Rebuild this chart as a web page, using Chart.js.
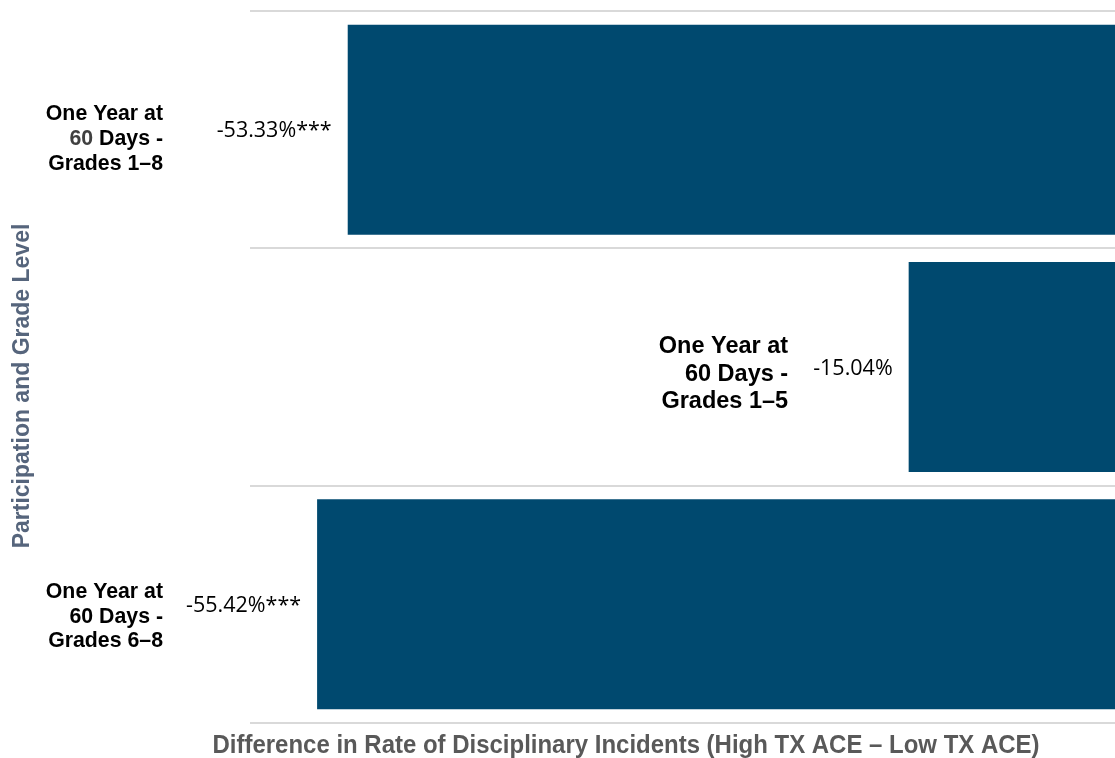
<!DOCTYPE html>
<html>
<head>
<meta charset="utf-8">
<script src="https://cdn.jsdelivr.net/npm/chart.js@4"></script>
<style>
  html, body { margin: 0; padding: 0; background: #ffffff; overflow: hidden; }
  #wrap { width: 1130px; height: 758px; }
</style>
</head>
<body>
<div id="wrap"><canvas id="c" width="1130" height="758"></canvas></div>
<script>
// ---- data ----
const categories = [
  ["One Year at", "60 Days -", "Grades 1–8"],
  ["One Year at", "60 Days -", "Grades 1–5"],
  ["One Year at", "60 Days -", "Grades 6–8"]
];
const values = [-53.33, -15.04, -55.42];
const significance = ["***", "", "***"];
const xAxisTitle = "Difference in Rate of Disciplinary Incidents (High TX ACE – Low TX ACE)";
const yAxisTitle = "Participation and Grade Level";

// ---- layout / style (not data) ----
const labelFontSizes = [21.3, 23.5, 21.3];
const labelDy = [9.5, 7.3, 12.3];
const barColor = "#00496F";

const labelsPlugin = {
  id: "customLabels",
  afterDatasetsDraw(chart) {
    const ctx = chart.ctx;
    const area = chart.chartArea;
    const meta = chart.getDatasetMeta(0);
    ctx.save();
    meta.data.forEach((bar, i) => {
      // data label
      const txt = values[i].toFixed(2) + "%" + significance[i];
      ctx.font = "21.5px 'Open Sans'";
      ctx.fillStyle = "#000000";
      ctx.textAlign = "right";
      ctx.textBaseline = "middle";
      const dxRight = bar.x - 16;
      ctx.fillText(txt, dxRight, bar.y + 1.5);
      const w = ctx.measureText(txt).width;
      const dataLeft = dxRight - w;
      // category label
      const fs = labelFontSizes[i];
      const lh = fs * 1.165;
      const cy = bar.y + labelDy[i];
      ctx.font = "bold " + fs + "px 'Liberation Sans', Arial, sans-serif";
      const lines = categories[i];
      const maxW = Math.max(...lines.map(l => ctx.measureText(l).width));
      let right = dataLeft - 25;
      if (right - maxW < area.left) right = 163;
      lines.forEach((line, j) => {
        const y = cy + (j - 1) * lh;
        if (i === 0 && j === 1) {
          const rest = line.slice(2);
          const restW = ctx.measureText(rest).width;
          ctx.fillStyle = "#000000";
          ctx.fillText(rest, right, y);
          ctx.fillStyle = "#404040";
          ctx.fillText(line.slice(0, 2), right - restW, y);
        } else {
          ctx.fillStyle = "#000000";
          ctx.fillText(line, right, y);
        }
      });
    });
    // axis titles
    ctx.fillStyle = "#595959";
    ctx.textAlign = "center";
    ctx.textBaseline = "middle";
    ctx.font = "bold 25px 'Liberation Sans', Arial, sans-serif";
    ctx.fillText(xAxisTitle, 626, 746, 827);
    ctx.save();
    ctx.translate(22.5, 386);
    ctx.rotate(-Math.PI / 2);
    ctx.fillStyle = "#56657C";
    ctx.font = "bold 23px 'Liberation Sans', Arial, sans-serif";
    ctx.fillText(yAxisTitle, 0, 0);
    ctx.restore();
    ctx.restore();
  }
};

new Chart(document.getElementById("c"), {
  type: "bar",
  data: {
    labels: categories.map(c => c.join(" ")),
    datasets: [{
      data: values,
      backgroundColor: barColor,
      borderWidth: 0,
      categoryPercentage: 0.885,
      barPercentage: 1
    }]
  },
  options: {
    indexAxis: "y",
    responsive: false,
    devicePixelRatio: 1,
    animation: false,
    layout: { padding: { left: 250, right: 1, top: 11, bottom: 35 } },
    plugins: { legend: { display: false }, tooltip: { enabled: false } },
    scales: {
      x: { display: false, min: -60, max: 0 },
      y: {
        ticks: { display: false },
        border: { display: false },
        grid: { offset: true, color: "#D9D9D9", lineWidth: 2, drawTicks: false }
      }
    }
  },
  plugins: [labelsPlugin]
});
</script>
</body>
</html>
